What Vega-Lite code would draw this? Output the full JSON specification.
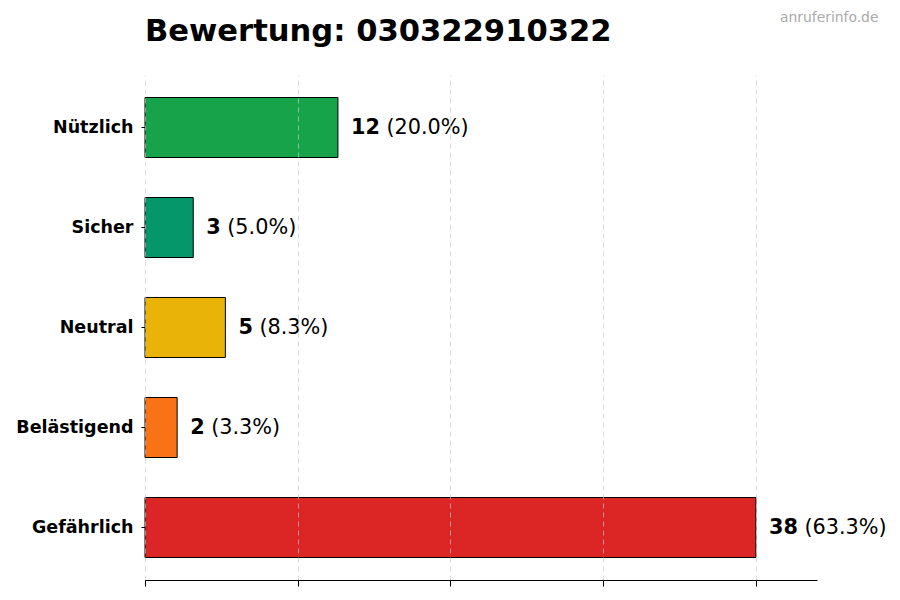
{
  "$schema": "https://vega.github.io/schema/vega-lite/v6.json",
  "width": 672,
  "height": 505,
  "autosize": "none",
  "padding": {"left": 145, "top": 75, "right": 83, "bottom": 20},
  "background": "white",
  "title": {
    "text": "Bewertung: 030322910322",
    "anchor": "start",
    "frame": "group",
    "font": "DejaVu Sans",
    "fontSize": 30.6,
    "fontWeight": "bold",
    "color": "black",
    "offset": -38
  },
  "config": {
    "view": {"stroke": null},
    "font": "DejaVu Sans"
  },
  "data": {
    "values": [
      {"category": "Nützlich", "count": 12, "pct": "(20.0%)", "color": "#16a34a"},
      {"category": "Sicher", "count": 3, "pct": "(5.0%)", "color": "#059669"},
      {"category": "Neutral", "count": 5, "pct": "(8.3%)", "color": "#eab308"},
      {"category": "Belästigend", "count": 2, "pct": "(3.3%)", "color": "#f97316"},
      {"category": "Gefährlich", "count": 38, "pct": "(63.3%)", "color": "#dc2626"}
    ]
  },
  "encoding": {
    "y": {
      "field": "category",
      "type": "nominal",
      "sort": null,
      "title": null,
      "scale": {"paddingInner": 0.4, "paddingOuter": 0.225},
      "axis": {
        "domain": false,
        "ticks": true,
        "tickSize": 4,
        "tickColor": "black",
        "labelPadding": 8,
        "labelFont": "DejaVu Sans",
        "labelFontSize": 17.5,
        "labelFontWeight": "bold",
        "labelColor": "black",
        "grid": false
      }
    }
  },
  "layer": [
    {
      "mark": {"type": "bar", "stroke": "black", "strokeWidth": 1},
      "encoding": {
        "x": {
          "field": "count",
          "type": "quantitative",
          "title": null,
          "scale": {"domain": [0, 41.8], "nice": false, "zero": true},
          "axis": {
            "values": [0, 9.5, 19, 28.5, 38],
            "labels": false,
            "domainColor": "black",
            "domainWidth": 1,
            "tickColor": "black",
            "tickSize": 6,
            "grid": true,
            "gridColor": "#c8c8c8",
            "gridOpacity": 0.85,
            "gridDash": [5, 4],
            "gridWidth": 0.8,
            "zindex": 1
          }
        },
        "color": {"field": "color", "type": "nominal", "scale": null, "legend": null}
      }
    },
    {
      "transform": [{"filter": "datum.count >= 10"}],
      "mark": {"type": "text", "align": "left", "baseline": "middle", "dx": 48.5, "fontSize": 20.8, "color": "black"},
      "encoding": {
        "x": {"field": "count", "type": "quantitative", "axis": null},
        "text": {"field": "pct"}
      }
    },
    {
      "transform": [{"filter": "datum.count < 10"}],
      "mark": {"type": "text", "align": "left", "baseline": "middle", "dx": 34, "fontSize": 20.8, "color": "black"},
      "encoding": {
        "x": {"field": "count", "type": "quantitative", "axis": null},
        "text": {"field": "pct"}
      }
    },
    {
      "mark": {"type": "text", "align": "left", "baseline": "middle", "dx": 13, "fontSize": 20.8, "fontWeight": "bold", "color": "black"},
      "encoding": {
        "x": {"field": "count", "type": "quantitative", "axis": null},
        "text": {"field": "count", "type": "quantitative"}
      }
    },
    {
      "mark": {"type": "rule", "opacity": 0},
      "encoding": {
        "x": {
          "datum": 0,
          "type": "quantitative",
          "axis": {
            "orient": "top",
            "title": "anruferinfo.de",
            "titleFont": "DejaVu Sans",
            "titleFontSize": 13.9,
            "titleFontWeight": "normal",
            "titleColor": "#aaaaaa",
            "titleAlign": "right",
            "titleAnchor": "end",
            "titleX": 733,
            "titleY": -65,
            "titleBaseline": "top",
            "domain": false,
            "ticks": false,
            "labels": false,
            "grid": false
          }
        }
      }
    }
  ],
  "resolve": {"axis": {"x": "independent"}}
}
